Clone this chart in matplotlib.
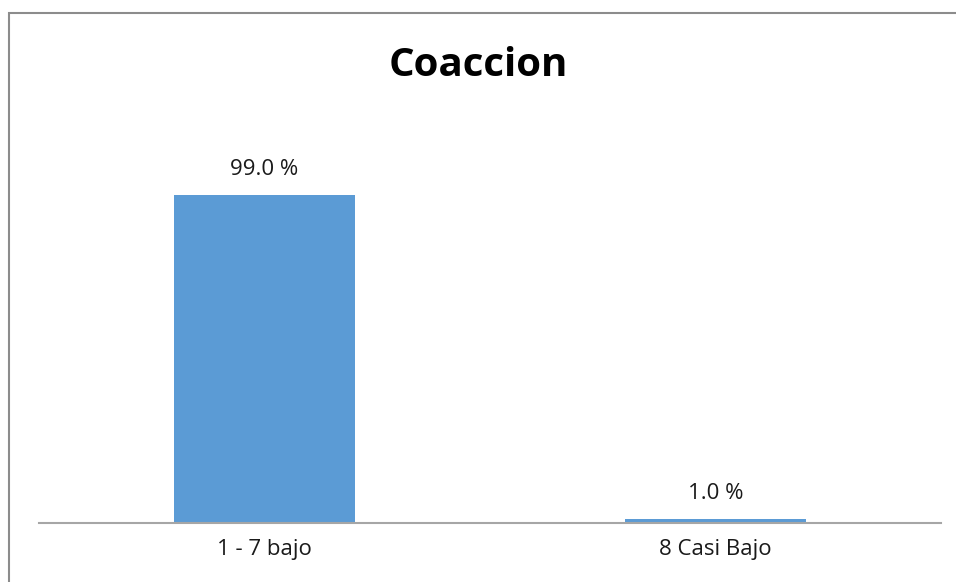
import matplotlib
matplotlib.use('Agg')
import matplotlib.pyplot as plt
from matplotlib.patches import Rectangle

# Datos del gráfico
categorias = ['1 - 7 bajo', '8 Casi Bajo']
porcentajes = [99.0, 1.0]
titulo = 'Coaccion'

plt.rcParams['font.family'] = ['Open Sans', 'DejaVu Sans']

fig = plt.figure(figsize=(9.56, 5.82), dpi=100)
ax = fig.add_axes([39 / 956, 1 - 522.5 / 582, 902 / 956, 397 / 582])

posiciones = range(len(categorias))
barras = ax.bar(posiciones, porcentajes, width=0.4, color='#5B9BD5')

# etiquetas de datos encima de cada barra
for pos, valor in zip(posiciones, porcentajes):
    ax.annotate(f'{valor:.1f} %', (pos, valor), xytext=(0, 11), textcoords='offset points',
                ha='center', va='bottom', fontsize=16, color='#1a1a1a')

ax.set_xlim(-0.5, len(categorias) - 0.5)
ax.set_ylim(0, 120)
ax.set_xticks(list(posiciones))
ax.set_xticklabels(categorias, fontsize=16, color='#1a1a1a')
ax.tick_params(axis='x', length=0, pad=12)
ax.set_yticks([])

for lado in ['top', 'right', 'left']:
    ax.spines[lado].set_visible(False)
ax.spines['bottom'].set_color('#a6a6a6')
ax.spines['bottom'].set_linewidth(1.5)

fig.text(0.5, 1 - 66 / 582, titulo, ha='center', va='center', fontsize=29,
         fontweight='bold', color='black')

# borde del área del gráfico (recortado a la derecha y abajo)
borde = Rectangle((9 / 956, -0.1), 1.2, 1 - 13 / 582 + 0.1, transform=fig.transFigure,
                  fill=False, edgecolor='#8c8c8c', linewidth=1.5, clip_on=False)
fig.patches.append(borde)

fig.savefig('out.png', dpi=100, facecolor='white')
